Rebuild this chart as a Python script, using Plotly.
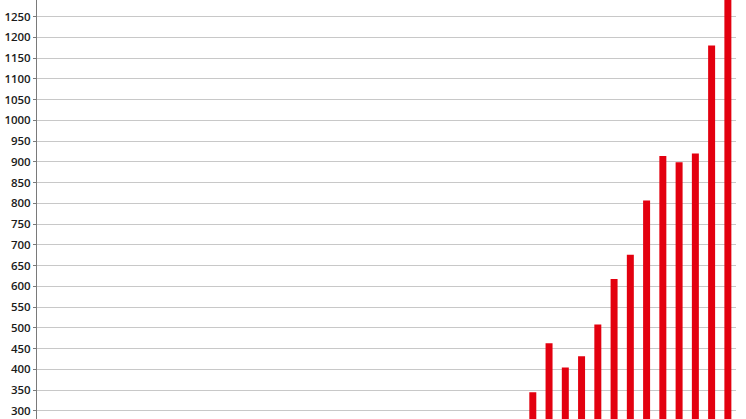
"""Red bar chart, cropped view of the upper value range."""

import plotly.graph_objects as go

BAR_COLOR = "#e3000f"
GRID_COLOR = "#c8c8c8"
AXIS_COLOR = "#7a7a7a"
TEXT_COLOR = "#1a1a1a"

# 43 slots; the first 30 lie below the visible part of the axis
categories = [str(year) for year in range(1980, 2023)]
values = [None] * 30 + [
    345, 463, 405, 432, 508, 618, 676, 807, 914, 899, 920, 1180, 1330,
]
tick_values = list(range(300, 1251, 50))
tick_labels = [str(v) for v in tick_values]

fig = go.Figure()
fig.add_trace(
    go.Bar(
        x=categories,
        y=values,
        marker={"color": BAR_COLOR, "line": {"width": 0}},
        hoverinfo="x+y",
        showlegend=False,
    )
)

fig.update_layout(
    width=746,
    height=419,
    paper_bgcolor="white",
    plot_bgcolor="white",
    bargap=0.57,
    margin={"l": 37, "r": 10, "t": 0, "b": 0, "autoexpand": False},
    font={"family": "Open Sans, sans-serif", "size": 11, "color": TEXT_COLOR},
)
fig.update_xaxes(
    type="category",
    range=[-0.5, len(categories) - 0.5],
    showticklabels=False,
    showgrid=False,
    zeroline=False,
    ticks="",
)
fig.update_yaxes(
    range=[280.7, 1289.7],
    tickvals=tick_values,
    ticktext=tick_labels,
    showgrid=True,
    gridcolor=GRID_COLOR,
    gridwidth=1,
    zeroline=False,
    showline=True,
    linecolor=AXIS_COLOR,
    linewidth=1,
    ticks="outside",
    ticklen=3,
    tickcolor=AXIS_COLOR,
    tickfont={"size": 11.5, "color": TEXT_COLOR, "family": "Open Sans, sans-serif", "weight": 600},
)

# drop the browser's default body margin so the figure sits at the page corner
fig.write_html(
    "out.html",
    config={"displayModeBar": False},
    post_script="document.body.style.margin = '0';",
)
